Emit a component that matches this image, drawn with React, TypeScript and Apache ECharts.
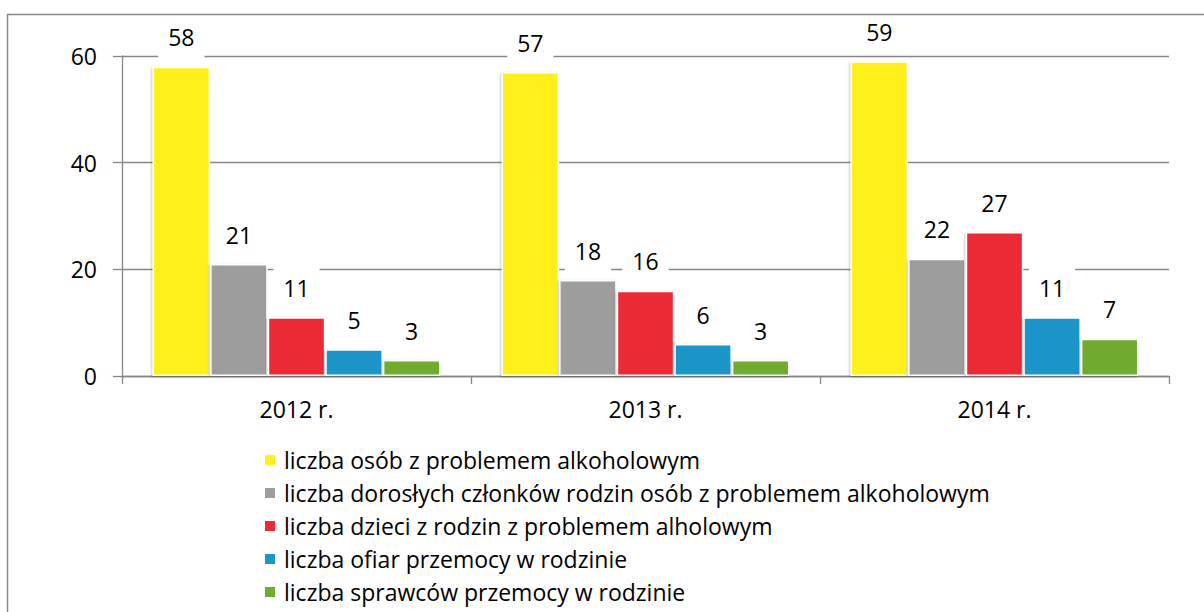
import React, { useEffect, useRef } from "react";
import * as echarts from "echarts";

const categories = ["2012 r.", "2013 r.", "2014 r."];
const seriesNames = [
  "liczba osób z problemem alkoholowym",
  "liczba dorosłych członków rodzin osób z problemem alkoholowym",
  "liczba dzieci z rodzin z problemem alholowym",
  "liczba ofiar przemocy w rodzinie",
  "liczba sprawców przemocy w rodzinie",
];
const osoby = [58, 57, 59];
const dorosli = [21, 18, 22];
const dzieci = [11, 16, 27];
const ofiary = [5, 6, 11];
const sprawcy = [3, 3, 7];
const seriesValues = [osoby, dorosli, dzieci, ofiary, sprawcy];
const colors = ["#FFF01F", "#9D9D9D", "#EC2A35", "#1B96C8", "#6FAB2F"];
const yMin = 0;
const yMax = 60;
const yInterval = 20;

const FONT = "Open Sans";
const FS = 23;

export default function App() {
  const ref = useRef<HTMLDivElement>(null);
  useEffect(() => {
    document.body.style.margin = "0";
    const chart = echarts.init(ref.current!, null, { renderer: "svg" });
    chart.setOption({
      animation: false,
      backgroundColor: "#ffffff",
      textStyle: { fontFamily: FONT },
      graphic: [
        {
          type: "rect",
          z: 100,
          shape: { x: 7.5, y: 14.5, width: 1400, height: 800 },
          style: { fill: "none", stroke: "#8a8a8a", lineWidth: 1.5 },
          silent: true,
        },
      ],
      grid: { left: 122, right: 35, top: 56, bottom: 236, containLabel: false },
      legend: {
        orient: "vertical",
        left: 263,
        top: 448.5,
        padding: 0,
        itemWidth: 12,
        itemHeight: 12,
        itemGap: 10,
        icon: "rect",
        data: seriesNames,
        textStyle: {
          fontFamily: FONT,
          fontSize: FS,
          lineHeight: 23,
          color: "#000",
          padding: [0, 0, 0, 3],
        },
      },
      xAxis: {
        type: "category",
        data: categories,
        axisLine: { show: true, lineStyle: { color: "#868686", width: 1.3 } },
        axisTick: { show: true, length: 8, lineStyle: { color: "#868686", width: 1.3 } },
        axisLabel: { fontFamily: FONT, fontSize: FS, color: "#000", margin: 21 },
        splitLine: { show: false },
      },
      yAxis: {
        type: "value",
        min: yMin,
        max: yMax,
        interval: yInterval,
        axisLine: { show: true, lineStyle: { color: "#868686", width: 1.3 } },
        axisTick: { show: true, length: 9, lineStyle: { color: "#868686", width: 1.3 } },
        axisLabel: { fontFamily: FONT, fontSize: FS, color: "#000", margin: 25 },
        splitLine: { show: true, lineStyle: { color: "#868686", width: 1.3 } },
      },
      series: seriesNames.map((name, i) => ({
        name,
        type: "bar",
        data: seriesValues[i],
        barGap: "0%",
        barCategoryGap: "17.5%",
        itemStyle: {
          color: colors[i],
          borderColor: "#ffffff",
          borderWidth: 1.5,
          shadowColor: "rgba(0,0,0,0.25)",
          shadowBlur: 2,
          shadowOffsetX: -1,
          shadowOffsetY: 1,
        },
        label: {
          show: true,
          position: "top",
          distance: 7,
          fontFamily: FONT,
          fontSize: FS,
          lineHeight: 23,
          color: "#000",
          backgroundColor: "#ffffff",
          padding: [11, 10],
        },
      })),
    });
    return () => chart.dispose();
  }, []);
  return <div ref={ref} style={{ width: 1204, height: 612 }} />;
}
